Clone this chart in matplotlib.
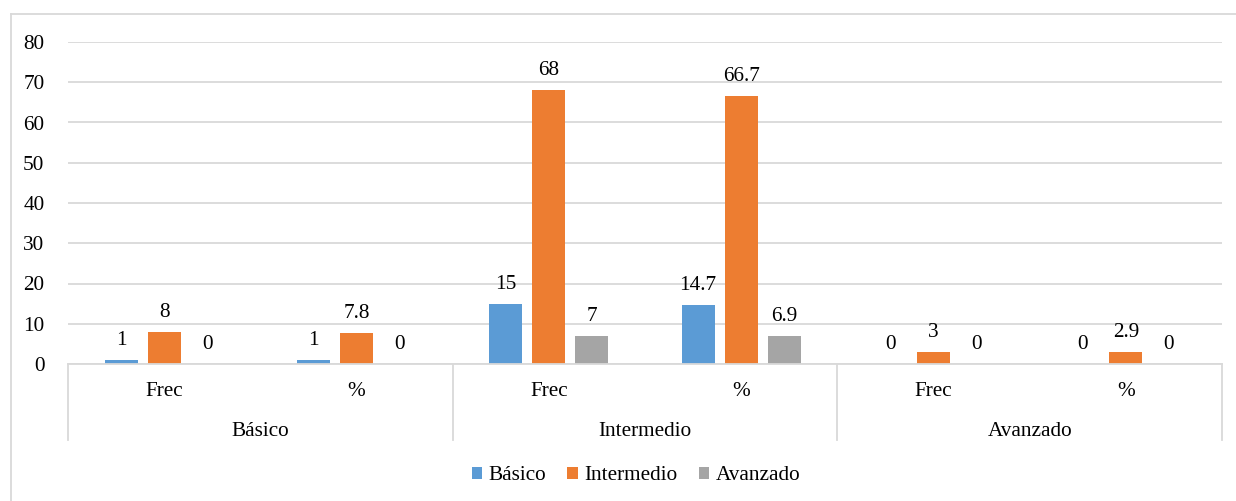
import matplotlib
matplotlib.use("Agg")
import matplotlib.pyplot as plt
import matplotlib.transforms as mtransforms
from matplotlib.patches import Patch
from matplotlib.lines import Line2D
import numpy as np

plt.rcParams['font.family'] = ['Liberation Serif', 'DejaVu Serif']

groups = ["Básico", "Intermedio", "Avanzado"]
subcats = ["Frec", "%"]
series_names = ["Básico", "Intermedio", "Avanzado"]
basico = [1, 1, 15, 14.7, 0, 0]
intermedio = [8, 7.8, 68, 66.7, 3, 2.9]
avanzado = [0, 0, 7, 6.9, 0, 0]
y_ticks = [0, 10, 20, 30, 40, 50, 60, 70, 80]

colors = ["#5B9BD5", "#ED7D31", "#A5A5A5"]
grid_col = "#D9D9D9"
fs = 15.3

W, H = 1236, 501
fig = plt.figure(figsize=(W / 100, H / 100), dpi=100)
ax = fig.add_axes([68 / W, (H - 364) / H, (1222 - 68) / W, (364 - 42) / H])

n = len(basico)
x = np.arange(n)
width = 0.172
step = 0.224
for i, (vals, col) in enumerate(zip([basico, intermedio, avanzado], colors)):
    pos = x + (i - 1) * step
    ax.bar(pos, vals, width=width, color=col, zorder=3)
    for px, v in zip(pos, vals):
        ax.annotate(f"{v:g}", (px, v), xytext=(0, 14.0), textcoords="offset points",
                    ha="center", va="center", fontsize=fs, color="#000000")

ax.set_xlim(-0.5, n - 0.5)
ax.set_ylim(0, 80)
ax.set_yticks(y_ticks)
ax.set_yticklabels([str(t) for t in y_ticks], fontsize=fs)
ax.tick_params(axis="y", length=0, pad=17)
ax.set_xticks([])
ax.yaxis.grid(True, color=grid_col, linewidth=1.3, zorder=0)
for s in ["top", "right", "left"]:
    ax.spines[s].set_visible(False)
ax.spines["bottom"].set_color(grid_col)
ax.spines["bottom"].set_linewidth(1.3)
ax.spines["bottom"].set_zorder(4)

# two-level category axis
trans = mtransforms.blended_transform_factory(ax.transData, fig.transFigure)
def fy(py):
    return (H - py) / H
for b in np.arange(-0.5, n, 2):
    ax.add_line(Line2D([b, b], [fy(364), fy(440)], transform=trans, color=grid_col,
                       linewidth=1.3, clip_on=False))
for j in range(n):
    ax.text(x[j], fy(392), subcats[j % 2], transform=trans, ha="center", va="center",
            fontsize=fs)
for g, name in enumerate(groups):
    ax.text(2 * g + 0.5, fy(432), name, transform=trans, ha="center", va="center",
            fontsize=fs)

# chart frame
fig.add_artist(Line2D([11 / W, 11 / W], [fy(13.5), 0], transform=fig.transFigure,
                      color=grid_col, linewidth=1.3))
fig.add_artist(Line2D([11 / W, 1], [fy(13.5), fy(13.5)], transform=fig.transFigure,
                      color=grid_col, linewidth=1.3))

handles = [Patch(facecolor=c, edgecolor="none") for c in colors]
fig.legend(handles, series_names, loc="center", bbox_to_anchor=(636 / W, fy(476)),
           ncol=3, frameon=False, fontsize=fs, handlelength=0.5, handleheight=0.5,
           handletextpad=0.3, columnspacing=1.0)

fig.savefig("out.png", dpi=100)
